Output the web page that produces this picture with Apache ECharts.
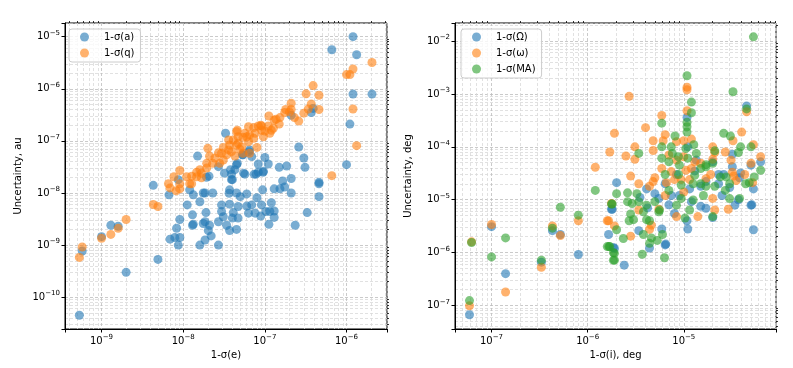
<!DOCTYPE html>
<html>
<head>
<meta charset="utf-8">
<script src="https://cdn.jsdelivr.net/npm/echarts@6/dist/echarts.min.js"></script>
<style>
  html, body { margin: 0; background: #fff; }
  #chart { width: 793px; height: 368px; }
</style>
</head>
<body>
<div id="chart"></div>
<script>
// left panel: 1-sigma(e) vs uncertainty in a and q (au)
var aPts = [
  [1.2e-6,1e-5],[6.6e-7,5.6e-6],[1.33e-6,4.5e-6],[1.2e-6,7.9e-7],[2.05e-6,7.9e-7],[1.1e-6,2.1e-7],[3.9e-7,4.2e-7],[3.7e-7,3.5e-7],[2.1e-7,3.1e-7],[1e-6,3.5e-8],
  [2.6e-7,7.6e-8],[3e-7,4.7e-8],[3.1e-7,3.1e-8],[2.1e-7,1.9e-8],[4.6e-7,1.6e-8],[3.3e-8,1.4e-7],[1.5e-8,5.1e-8],[5.4e-8,5.4e-8],[6.9e-8,5e-8],[6.4e-8,6.2e-8],
  [1e-7,4.8e-8],[4.6e-8,3.7e-8],[8.3e-8,3.6e-8],[1.1e-7,3.6e-8],[1.5e-7,3.1e-8],[1.85e-7,3.3e-8],[3.2e-8,2.4e-8],[3.8e-8,2.8e-8],[5.5e-8,2.4e-8],[7.8e-8,2.3e-8],
  [9.5e-8,2.5e-8],[4e-8,1.8e-8],[1.65e-7,1.7e-8],[2.07e-8,2.1e-8],[1.85e-8,1e-8],[2.3e-8,1e-8],[1.6e-8,6.8e-9],[1.3e-8,3.8e-9],[1.33e-8,2.5e-9],[1.9e-8,4.2e-9],
  [1.85e-8,2.8e-9],[2.1e-8,2.4e-9],[2.03e-8,1.9e-9],[2.2e-8,1.5e-9],[1.85e-8,1.25e-9],[1.6e-8,1e-9],[2.7e-8,1e-9],[2.7e-8,2.8e-9],[2.95e-8,5.9e-9],[2.95e-8,4.4e-9],
  [3.1e-8,3.5e-9],[3.4e-8,2.4e-9],[3.7e-8,1.9e-9],[4.5e-8,2e-9],[4e-8,3.3e-9],[4.7e-8,3.3e-9],[4.1e-8,4.2e-9],[3.7e-8,6.1e-9],[4.7e-8,5.5e-9],[6e-8,5.6e-9],
  [6.9e-8,5.9e-9],[6.3e-8,4.1e-9],[7.6e-8,4.1e-9],[8.9e-8,3.6e-9],[9.1e-8,5.9e-9],[1.03e-7,4.4e-9],[1.2e-7,6.5e-9],[1.15e-7,4.4e-9],[1.3e-7,4.5e-9],[1.3e-7,3.4e-9],
  [1.12e-7,2.5e-9],[8e-8,8.1e-9],[3.65e-8,9.9e-9],[3.7e-8,1.15e-8],[4.5e-8,1e-8],[5e-8,8.5e-9],[6e-8,9.6e-9],[9.4e-8,1.15e-8],[1.3e-7,1.2e-8],[1.53e-7,1.2e-8],
  [1.75e-7,1.3e-8],[2.1e-7,1e-8],[3.3e-7,4.2e-9],[2.35e-7,2.4e-9],[4.6e-7,1.5e-8],[4.6e-7,8.5e-9],[9.6e-8,2.6e-8],[8.3e-8,2.5e-8],[7.4e-8,2.3e-8],[5.7e-8,2.3e-8],
  [3.9e-8,1.8e-8],[3.9e-8,2.3e-8],[4.3e-8,2.8e-8],[4.5e-8,3.5e-8],[5.3e-8,5.4e-8],[6.5e-8,6.7e-8],[2.7e-8,3.2e-8],[1.33e-8,9.2e-9],[1.93e-8,2e-8],[4.3e-9,1.4e-8],
  [6.7e-9,9.2e-9],[8.7e-9,1.8e-8],[1.2e-8,1.15e-8],[1.12e-8,5.9e-9],[1.76e-8,1e-8],[1.3e-8,2.4e-9],[1.76e-8,2.6e-9],[9.1e-9,3.1e-9],[8.3e-9,2.1e-9],[6.9e-9,1.3e-9],
  [7.9e-9,1.4e-9],[9.1e-9,1.4e-9],[8.7e-9,1e-9],[4.9e-9,5.3e-10],[2e-9,3e-10],[5.35e-10,4.5e-11],[5.8e-10,7.7e-10],[1e-9,1.45e-9],[1.3e-9,2.4e-9],[1.6e-9,2.3e-9]
];
var qPts = [
  [2.05e-6,3.2e-6],[1e-6,1.87e-6],[1.1e-6,1.87e-6],[1.2e-6,2.4e-6],[3.9e-7,1.15e-6],[3.2e-7,8e-7],[4.6e-7,7.5e-7],[1.2e-6,4.1e-7],[1.33e-6,8.1e-8],[6.6e-7,2.15e-8],
  [3.7e-7,5.1e-7],[2.1e-7,5.3e-7],[4.6e-7,4e-7],[3.4e-7,4.1e-7],[3e-7,3.4e-7],[2.6e-7,2.4e-7],[2.3e-7,2.8e-7],[1.75e-7,3.5e-7],[2.1e-7,4e-7],[1.12e-7,3e-7],
  [1.3e-7,2.5e-7],[1.53e-7,2.8e-7],[1.5e-7,2.1e-7],[1.2e-7,1.6e-7],[1.8e-7,4e-7],[2e-7,3.6e-7],[1.27e-7,1.75e-7],[1.15e-7,1.4e-7],[9.1e-8,1.93e-7],[7.3e-8,1.8e-7],
  [6.3e-8,1.87e-7],[8.3e-8,1.93e-7],[9.1e-8,1.6e-7],[7.6e-8,1.4e-7],[6.5e-8,1.3e-7],[9.6e-8,1.2e-7],[4.6e-8,1.6e-7],[5.7e-8,1.4e-7],[5.4e-8,1.17e-7],[7.3e-8,1.12e-7],
  [6.3e-8,9.6e-8],[4.7e-8,1.2e-7],[4.1e-8,1.04e-7],[3.7e-8,8.3e-8],[4.5e-8,8.3e-8],[5.2e-8,7.7e-8],[3.6e-8,6.7e-8],[3.1e-8,7.5e-8],[2.7e-8,5.9e-8],[2.95e-8,5.8e-8],
  [3.4e-8,5.4e-8],[3.9e-8,6.2e-8],[4.3e-8,5.1e-8],[2e-8,7.2e-8],[2.1e-8,5.1e-8],[2.8e-8,3.7e-8],[2.3e-8,3.7e-8],[1.94e-8,3.7e-8],[1.6e-8,2.8e-8],[1.94e-8,3e-8],
  [1.46e-8,2.5e-8],[1.27e-8,2.1e-8],[1.1e-8,2.05e-8],[9.1e-9,2.7e-8],[4.95e-8,6.9e-8],[6.6e-9,1.5e-8],[9.1e-9,1.5e-8],[6.9e-9,1.25e-8],[8.2e-9,1.1e-8],[9.1e-9,1.2e-8],
  [1.2e-8,1.5e-8],[4.3e-9,6e-9],[4.9e-9,5.5e-9],[2e-9,3.1e-9],[1.6e-9,2.1e-9],[1.3e-9,1.6e-9],[1e-9,1.35e-9],[5.8e-10,9.2e-10],[5.35e-10,5.8e-10],[1.27e-8,1.5e-8],
  [1.46e-8,2.05e-8],[1.67e-8,2.4e-8],[4.5e-8,1.5e-7],[4.7e-8,9e-8],[6e-8,1.2e-7],[8.9e-8,2e-7],[1.37e-7,2.6e-7],[8e-8,7.5e-8],[6.5e-8,5.8e-8],[5.4e-8,5.8e-8],
  [1e-7,1.55e-7],[1.1e-7,1.93e-7],[3.6e-8,1.04e-7],[3.1e-8,4.3e-8],[2.45e-8,4.7e-8],[1.67e-8,1.95e-8],[7.7e-9,2.05e-8]
];

// right panel: 1-sigma(i) vs uncertainty in angles (deg)
var omegaPts = [
  [5.9e-8,6.7e-8],[1e-7,3.1e-6],[1.4e-7,4e-7],[3.3e-7,6.6e-7],[4.3e-7,2.6e-6],[5.2e-7,2.2e-6],[8e-7,9.2e-7],[1.65e-6,2.2e-6],[1.77e-6,6.6e-6],[1.85e-6,1.25e-6],
  [4.5e-5,5.9e-4],[1.08e-5,3.6e-4],[1.1e-5,1e-4],[3.2e-5,7.2e-5],[6.3e-5,5.2e-5],[5e-5,4.5e-5],[3.9e-5,3.2e-5],[3.2e-5,4.2e-5],[2e-5,5.2e-5],[2.3e-5,3e-5],
  [2.6e-5,3e-5],[2e-6,2.1e-5],[1.8e-6,6.6e-6],[5e-6,1.3e-5],[8e-6,5.5e-6],[1.08e-5,4e-6],[2e-5,4.6e-6],[1.2e-5,9.2e-6],[1.5e-5,7.5e-6],[3.8e-5,2.6e-5],
  [5e-5,7.9e-6],[5.3e-5,1.6e-5],[8.4e-6,3e-5],[6.4e-6,2e-5],[3.5e-6,1.1e-5],[1.35e-5,5.6e-5],[1.5e-5,1.8e-5],[1.1e-5,2.8e-6],[3.4e-6,2.6e-6],[5.9e-6,2.8e-6],
  [5.3e-5,2.7e-6],[4.4e-6,1.22e-6],[6.4e-6,1.4e-6],[2.4e-6,5.8e-7],[1.9e-6,1.2e-6],[3.7e-5,1e-5],[5.1e-5,8e-6],[9e-6,1.2e-5],[1.3e-5,3.5e-5],[7e-6,8e-6],
  [2.5e-5,1.2e-5],[1.7e-5,2.2e-5],[4.2e-6,7e-6],[3e-5,1.7e-5],[6.5e-6,1.45e-6],[1.15e-5,1.6e-5],[1.7e-5,6.9e-6],[2.3e-5,2e-5],[3.4e-5,7.9e-6],[7.4e-6,1.2e-5],
  [5.5e-6,1.06e-5],[4.1e-6,1.6e-5]
];
var wPts = [
  [5.9e-8,9.9e-8],[6.2e-8,1.6e-6],[1e-7,3.4e-6],[1.4e-7,1.8e-7],[3.3e-7,5.3e-7],[4.3e-7,3.2e-6],[5.2e-7,2.1e-6],[8e-7,4e-6],[1.2e-6,4.1e-5],[1.7e-6,8e-5],
  [1.65e-6,4e-6],[1.77e-6,8.5e-6],[1.08e-5,1.34e-3],[1.08e-5,1.2e-3],[2.7e-6,9e-4],[4.5e-5,4.6e-4],[1.08e-5,4.8e-4],[5.9e-6,3.9e-4],[4e-6,2.3e-4],[1.9e-6,1.8e-4],
  [4e-5,1.9e-4],[3.25e-5,1.3e-4],[6.4e-6,1.7e-4],[4.8e-6,1.3e-4],[6.1e-6,1.3e-4],[1e-5,1.3e-4],[1.2e-5,1.4e-4],[8.4e-6,1.25e-4],[3.1e-6,1e-4],[4.8e-6,8.5e-5],
  [5.3e-5,1.1e-4],[2e-5,1e-4],[2.5e-6,6.7e-5],[3.1e-6,5.8e-5],[6.3e-5,6.5e-5],[5e-5,4.9e-5],[3.2e-5,3.3e-5],[2e-5,5.8e-5],[2.7e-5,8e-5],[3.3e-5,2.8e-5],
  [5.2e-5,2.1e-5],[7e-6,7e-5],[8.4e-6,5.6e-5],[1e-5,6.5e-5],[1.2e-5,3.9e-5],[1.5e-5,4.9e-5],[2.1e-5,7.8e-5],[4.3e-5,3e-5],[3.5e-5,2.3e-5],[2.8e-6,2.8e-5],
  [3.4e-6,2e-5],[4.4e-6,1.8e-5],[5e-6,2.6e-5],[6.6e-6,2.1e-5],[8e-6,2.4e-5],[9.4e-6,2.4e-5],[1.15e-5,2.4e-5],[1.7e-5,2.5e-5],[1.6e-6,4e-6],[3.4e-6,6.4e-6],
  [5.5e-6,6.6e-6],[8.4e-6,4.8e-6],[1.4e-5,4.8e-6],[2.1e-5,6.4e-6],[2.9e-5,6.6e-6],[4.6e-6,3.3e-6],[1e-5,1.4e-5],[6.4e-6,1.2e-5],[2e-5,1.06e-5],[2.8e-6,2.05e-6],
  [4.4e-6,2.75e-6],[1.9e-6,3.2e-6],[4.8e-6,2.2e-5],[5.9e-6,3.9e-5],[7.4e-6,3.4e-5],[1.05e-5,3.6e-5],[1.3e-5,5.2e-5],[1.9e-5,3e-5],[3.1e-5,5.6e-5]
];
var maPts = [
  [5.9e-8,1.24e-7],[6.2e-8,1.55e-6],[1e-7,8.3e-7],[1.4e-7,1.9e-6],[3.3e-7,7.2e-7],[4.3e-7,2.9e-6],[5.2e-7,7.2e-6],[8e-7,5.1e-6],[1.2e-6,1.5e-5],[1.77e-6,8.3e-6],
  [1.66e-6,1.3e-6],[1.85e-6,1e-6],[1.85e-6,7.2e-7],[5.3e-5,1.2e-2],[1.08e-5,2.2e-3],[3.25e-5,1.1e-3],[1.2e-5,7e-4],[4.5e-5,5.2e-4],[1.2e-5,4.4e-4],[1.08e-5,2.9e-4],
  [1.08e-5,2.4e-4],[1.08e-5,1.9e-4],[5.9e-6,2.8e-4],[2.6e-5,1.8e-4],[3.05e-5,1.6e-4],[8.1e-6,1.6e-4],[1.27e-5,1.1e-4],[3.9e-5,1e-4],[5e-5,1e-4],[2.1e-5,8.4e-5],
  [3.4e-6,7.5e-5],[3.7e-5,7.8e-5],[6.3e-5,3.6e-5],[2e-5,4.9e-5],[1.7e-5,4.6e-5],[2.75e-5,2.7e-5],[4.8e-5,2.1e-5],[2.6e-6,1.35e-5],[3.25e-6,1.3e-5],[3.4e-6,9.2e-6],
  [2.9e-6,8.5e-6],[2.6e-6,9.2e-6],[1.8e-6,8.3e-6],[4.1e-6,7.9e-6],[5.5e-6,5.9e-6],[4.4e-6,4e-6],[3e-6,4.2e-6],[7.4e-6,1e-4],[8.8e-6,6.5e-5],[5.9e-6,6.1e-5],
  [6.4e-6,3e-5],[8.8e-6,3e-5],[1.1e-5,6.1e-5],[9e-6,4.5e-5],[1.3e-5,2.9e-5],[1.7e-5,4.2e-5],[1.5e-5,2e-5],[1.6e-5,1.2e-5],[2.1e-5,1.8e-5],[2.7e-5,1.5e-5],
  [3e-5,1.05e-5],[3e-5,2e-5],[4.4e-5,2e-5],[5.4e-5,2.7e-5],[1.03e-5,4.5e-6],[1.15e-5,6.4e-6],[2e-5,4.8e-6],[1.25e-5,2e-5],[1.7e-5,1.8e-5],[7e-6,5.2e-5],
  [9.4e-6,1.9e-5],[7e-6,1.5e-5],[8.4e-6,7.9e-6],[5.6e-6,6.4e-6],[4.1e-6,4.2e-6],[2e-6,2.7e-6],[3.8e-6,2.2e-6],[4.6e-6,1.9e-6],[5.3e-6,1.7e-6],[4.4e-6,1.5e-6],
  [6e-6,2.2e-6],[3.7e-6,9.3e-7],[6.3e-6,8e-7],[1.9e-6,9.7e-7],[1.9e-6,7.2e-7],[1.6e-6,1.3e-6],[1.7e-6,1.3e-6],[2.35e-6,1.85e-6],[2.7e-6,4e-6],[2.8e-6,5.4e-6],
  [2e-6,1.3e-5],[5.9e-6,1e-4],[7.6e-6,7.5e-5],[1.05e-5,9.3e-5],[1.35e-5,7.5e-5],[1.5e-5,3.9e-5],[2.4e-5,2.7e-5],[3.8e-5,1.06e-5],[5e-6,9.2e-6],[3.8e-6,5.9e-6],
  [9.4e-6,1.06e-5],[1.25e-5,9.9e-6]
];

var leftNames = ['1-σ(a)', '1-σ(q)'];
var rightNames = ['1-σ(Ω)', '1-σ(ω)', '1-σ(MA)'];
var colors = ['#1f77b4', '#ff7f0e', '#2ca02c'];

var FONT = 'DejaVu Sans';
var chart = echarts.init(document.getElementById('chart'));

// 10^n labels, blank for anything that is not a whole decade
function decadeLabel(v) {
  var e = Math.log10(v);
  var r = Math.round(e);
  if (Math.abs(e - r) > 1e-6) return '';
  return '10{s|' + (r < 0 ? '\u2212' : '') + Math.abs(r) + '}';
}
var supRich = { s: { fontSize: 7, fontFamily: FONT, color: '#000', padding: [0, 0, 7, 0] } };

// minor tick positions 2..9 x 10^d
function minorVals(lo, hi) {
  var out = [];
  for (var d = lo; d <= hi; d++) {
    for (var k = 2; k <= 9; k++) out.push(k * Math.pow(10, d));
  }
  return out;
}

function majorAxis(grid, min, max, name, gap) {
  return {
    type: 'log', gridIndex: grid, min: min, max: max,
    name: name, nameLocation: 'middle', nameGap: gap,
    nameTextStyle: { fontFamily: FONT, fontSize: 10, color: '#000' },
    axisLine: { show: true, onZero: false, lineStyle: { color: '#000', width: 1 } },
    axisTick: { show: true, length: 3.5, lineStyle: { color: '#000' } },
    axisLabel: { formatter: decadeLabel, rich: supRich, fontFamily: FONT, fontSize: 10, color: '#000', margin: 5 },
    splitLine: { show: true, lineStyle: { color: '#bdbdbd', type: [3, 2], width: 0.8 } },
    minorTick: { show: false }
  };
}
function minorAxis(grid, min, max, lo, hi) {
  return {
    type: 'log', gridIndex: grid, min: min, max: max,
    axisLine: { show: false, onZero: false },
    axisTick: { show: true, length: 2, lineStyle: { color: '#000', width: 0.8 }, customValues: minorVals(lo, hi) },
    axisLabel: { show: false },
    splitLine: { show: true, lineStyle: { color: '#d9d9d9', type: [3, 2], width: 0.8 } }
  };
}

function scatter(name, pts, xi, yi, color) {
  return {
    type: 'scatter', name: name, data: pts,
    xAxisIndex: xi, yAxisIndex: yi,
    symbol: 'circle', symbolSize: 9,
    itemStyle: { color: color, opacity: 0.6 },
    emphasis: { disabled: true }, animation: false
  };
}

function legend(names, left) {
  return {
    data: names, orient: 'vertical', left: left, top: 29,
    icon: 'circle', itemWidth: 9, itemHeight: 9, itemGap: 6,
    padding: [3, 6, 4, 11],
    backgroundColor: 'rgba(255,255,255,0.8)', borderColor: '#cccccc', borderWidth: 1, borderRadius: 3,
    formatter: function (n) { return '{g| }' + n; },
    textStyle: { fontFamily: FONT, fontSize: 10, color: '#000', rich: { g: { width: 10 } } }
  };
}

chart.setOption({
  animation: false,
  backgroundColor: '#fff',
  grid: [
    { left: 65, right: 406, top: 23, bottom: 39, show: true, borderColor: '#000', borderWidth: 1 },
    { left: 455, right: 17, top: 23, bottom: 39, show: true, borderColor: '#000', borderWidth: 1 }
  ],
  xAxis: [
    majorAxis(0, 3.57e-10, 3.13e-6, '1-σ(e)', 20),
    minorAxis(0, 3.57e-10, 3.13e-6, -10, -6),
    majorAxis(1, 4.17e-8, 9.1e-5, '1-σ(i), deg', 20),
    minorAxis(1, 4.17e-8, 9.1e-5, -8, -5)
  ],
  yAxis: [
    majorAxis(0, 2.45e-11, 1.83e-5, 'Uncertainty, au', 42),
    minorAxis(0, 2.45e-11, 1.83e-5, -11, -5),
    majorAxis(1, 3.6e-8, 0.0219, 'Uncertainty, deg', 42),
    minorAxis(1, 3.6e-8, 0.0219, -8, -2)
  ],
  legend: [legend(leftNames, 69), legend(rightNames, 461)],
  series: [
    scatter(leftNames[0], aPts, 0, 0, colors[0]),
    scatter(leftNames[1], qPts, 0, 0, colors[1]),
    scatter(rightNames[0], omegaPts, 2, 2, colors[0]),
    scatter(rightNames[1], wPts, 2, 2, colors[1]),
    scatter(rightNames[2], maPts, 2, 2, colors[2])
  ]
});
</script>
</body>
</html>
